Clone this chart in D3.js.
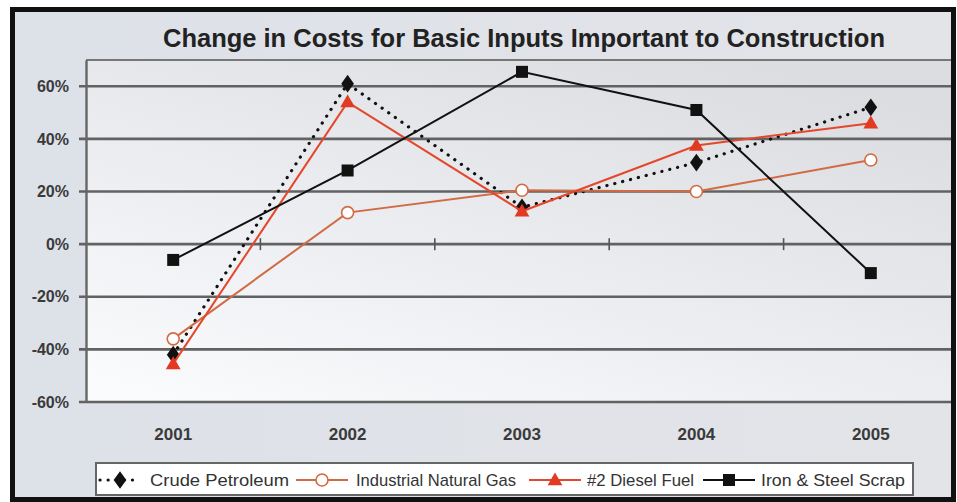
<!DOCTYPE html>
<html>
<head>
<meta charset="utf-8">
<script src="https://cdn.jsdelivr.net/npm/d3@7"></script>
<style>
  html, body { margin: 0; padding: 0; background: #ffffff; }
  svg { display: block; }
  text { font-family: "Liberation Sans", Arial, sans-serif; }
</style>
</head>
<body>
<svg id="chart" width="957" height="502"></svg>
<script>
// Yearly change in producer prices for construction inputs
const years = ["2001", "2002", "2003", "2004", "2005"];
const crudePetroleum = [-42, 61, 14, 31, 52];
const naturalGas = [-36, 12, 20.5, 20, 32];
const dieselFuel = [-45.5, 54, 12.5, 37.5, 46];
const steelScrap = [-6, 28, 65.5, 51, -11];
const seriesNames = ["Crude Petroleum", "Industrial Natural Gas", "#2 Diesel Fuel", "Iron & Steel Scrap"];
const yTicks = [-60, -40, -20, 0, 20, 40, 60];
const title = "Change in Costs for Basic Inputs Important to Construction";

const svg = d3.select("#chart");
const defs = svg.append("defs");

// Chart background
const bg = defs.append("linearGradient").attr("id", "bgGrad")
  .attr("x1", 0).attr("y1", 0).attr("x2", 1).attr("y2", 0);
bg.append("stop").attr("offset", 0).attr("stop-color", "#dde1e8");
bg.append("stop").attr("offset", 1).attr("stop-color", "#e3e4e8");

// Plot area: light at the lower left, greyer toward the upper right
const pg = defs.append("linearGradient").attr("id", "plotGrad")
  .attr("x1", 0).attr("y1", 1).attr("x2", 0.75).attr("y2", 0);
pg.append("stop").attr("offset", 0).attr("stop-color", "#fbfcfd");
pg.append("stop").attr("offset", 0.45).attr("stop-color", "#eceef2");
pg.append("stop").attr("offset", 1).attr("stop-color", "#dcdde1");

defs.append("clipPath").attr("id", "frameClip")
  .append("rect").attr("x", 15).attr("y", 12).attr("width", 936).attr("height", 485);

// Outer frame
svg.append("rect").attr("x", 10).attr("y", 7).attr("width", 946).attr("height", 495).attr("fill", "#111");
svg.append("rect").attr("x", 15).attr("y", 12).attr("width", 936).attr("height", 485).attr("fill", "url(#bgGrad)");

const plotTop = 60, plotBottom = 402, plotLeft = 86, plotRight = 958;

const x = d3.scaleBand().domain(years).range([plotLeft, plotRight]).paddingInner(0).paddingOuter(0);
const cx = d => x(d) + x.bandwidth() / 2;
const y = d3.scaleLinear().domain([-60, 70]).range([plotBottom, plotTop]);

const g = svg.append("g").attr("clip-path", "url(#frameClip)");

g.append("rect")
  .attr("x", plotLeft).attr("y", plotTop)
  .attr("width", plotRight - plotLeft).attr("height", plotBottom - plotTop)
  .attr("fill", "url(#plotGrad)");

// Horizontal grid lines (with tick stubs left of the axis)
g.append("g").selectAll("line").data(yTicks).join("line")
  .attr("x1", plotLeft - 7).attr("x2", plotRight)
  .attr("y1", d => y(d)).attr("y2", d => y(d))
  .attr("stroke", "#626262").attr("stroke-width", 2.6);

// Plot border top
g.append("line").attr("x1", plotLeft).attr("x2", plotRight)
  .attr("y1", plotTop).attr("y2", plotTop)
  .attr("stroke", "#777").attr("stroke-width", 2);

// Value axis
const yAxis = d3.axisLeft(y).tickValues(yTicks).tickFormat(d => d + "%").tickSize(0).tickPadding(17);
const ya = g.append("g").attr("transform", `translate(${plotLeft},0)`).call(yAxis);
ya.select(".domain").attr("stroke", "#666").attr("stroke-width", 2.4);
ya.selectAll("text").attr("font-size", 16).attr("font-weight", "bold").attr("fill", "#3a3a3a")
  .attr("font-family", "Liberation Sans, Arial, sans-serif");

// Category axis ticks sit on the 0% line, between categories
g.append("g").selectAll("line").data(years.slice(1)).join("line")
  .attr("x1", d => x(d)).attr("x2", d => x(d))
  .attr("y1", y(0) - 6).attr("y2", y(0) + 6)
  .attr("stroke", "#555").attr("stroke-width", 1.6);

// Category labels
const xAxis = d3.axisBottom(x).tickSize(0).tickPadding(26);
const xa = g.append("g").attr("transform", `translate(0,${plotBottom})`).call(xAxis);
xa.select(".domain").remove();
xa.selectAll("text").attr("font-size", 17).attr("font-weight", "bold").attr("fill", "#3a3a3a")
  .attr("font-family", "Liberation Sans, Arial, sans-serif");

// Title (condensed bold)
svg.append("text")
  .attr("x", 163).attr("y", 47)
  .attr("textLength", 722).attr("lengthAdjust", "spacingAndGlyphs")
  .attr("font-size", 25).attr("font-weight", "bold").attr("fill", "#222")
  .text(title);

// Series
const series = [
  { name: seriesNames[0], values: crudePetroleum, color: "#111", dash: "0.1 8", cap: "round", width: 3.2, marker: "diamond", fill: "#111" },
  { name: seriesNames[1], values: naturalGas, color: "#d26a44", dash: null, cap: "butt", width: 2, marker: "circle", fill: "#ffffff" },
  { name: seriesNames[2], values: dieselFuel, color: "#e5472c", dash: null, cap: "butt", width: 2, marker: "triangle", fill: "#e23a22" },
  { name: seriesNames[3], values: steelScrap, color: "#111", dash: null, cap: "butt", width: 2, marker: "square", fill: "#111" }
];

const line = d3.line().x(d => cx(d.year)).y(d => y(d.v));

function drawMarker(sel, type, color, fill) {
  if (type === "diamond") {
    sel.append("path").attr("d", d3.symbol(d3.symbolDiamond, 90)()).attr("transform", "scale(1.25,1)").attr("fill", fill);
  } else if (type === "circle") {
    sel.append("circle").attr("r", 6).attr("fill", fill).attr("stroke", color).attr("stroke-width", 1.6);
  } else if (type === "triangle") {
    sel.append("path").attr("d", d3.symbol(d3.symbolTriangle, 95)()).attr("transform", "translate(0,1)").attr("fill", fill);
  } else if (type === "square") {
    sel.append("rect").attr("x", -6).attr("y", -6).attr("width", 12).attr("height", 12).attr("fill", fill);
  }
}

series.forEach(s => {
  const pts = years.map((yr, i) => ({ year: yr, v: s.values[i] }));
  g.append("path").datum(pts)
    .attr("d", line)
    .attr("fill", "none")
    .attr("stroke", s.color)
    .attr("stroke-width", s.width)
    .attr("stroke-linecap", s.cap)
    .attr("stroke-dasharray", s.dash);
  const m = g.append("g").selectAll("g").data(pts).join("g")
    .attr("transform", d => `translate(${cx(d.year)},${y(d.v)})`);
  m.each(function () { drawMarker(d3.select(this), s.marker, s.color, s.fill); });
});

// Legend
const legend = svg.append("g");
legend.append("rect").attr("x", 96).attr("y", 463).attr("width", 817).attr("height", 32)
  .attr("fill", "#ffffff").attr("stroke", "#666").attr("stroke-width", 2);

const legendLayout = [
  { sym: 120, x1: 100, x2: 140, tx: 150, tw: 139 },
  { sym: 322, x1: 296, x2: 348, tx: 356, tw: 160 },
  { sym: 555, x1: 529, x2: 581, tx: 587, tw: 107 },
  { sym: 729, x1: 703, x2: 755, tx: 761, tw: 144 }
];
const ly = 480;
series.forEach((s, i) => {
  const L = legendLayout[i];
  legend.append("line").attr("x1", L.x1).attr("x2", L.x2).attr("y1", ly).attr("y2", ly)
    .attr("stroke", s.color).attr("stroke-width", s.width)
    .attr("stroke-linecap", s.cap).attr("stroke-dasharray", s.dash);
  const mg = legend.append("g").attr("transform", `translate(${L.sym},${ly})`);
  drawMarker(mg, s.marker, s.color, s.fill);
  legend.append("text").attr("x", L.tx).attr("y", ly + 6)
    .attr("textLength", L.tw).attr("lengthAdjust", "spacingAndGlyphs")
    .attr("font-size", 17).attr("fill", "#333")
    .text(s.name);
});
</script>
</body>
</html>
